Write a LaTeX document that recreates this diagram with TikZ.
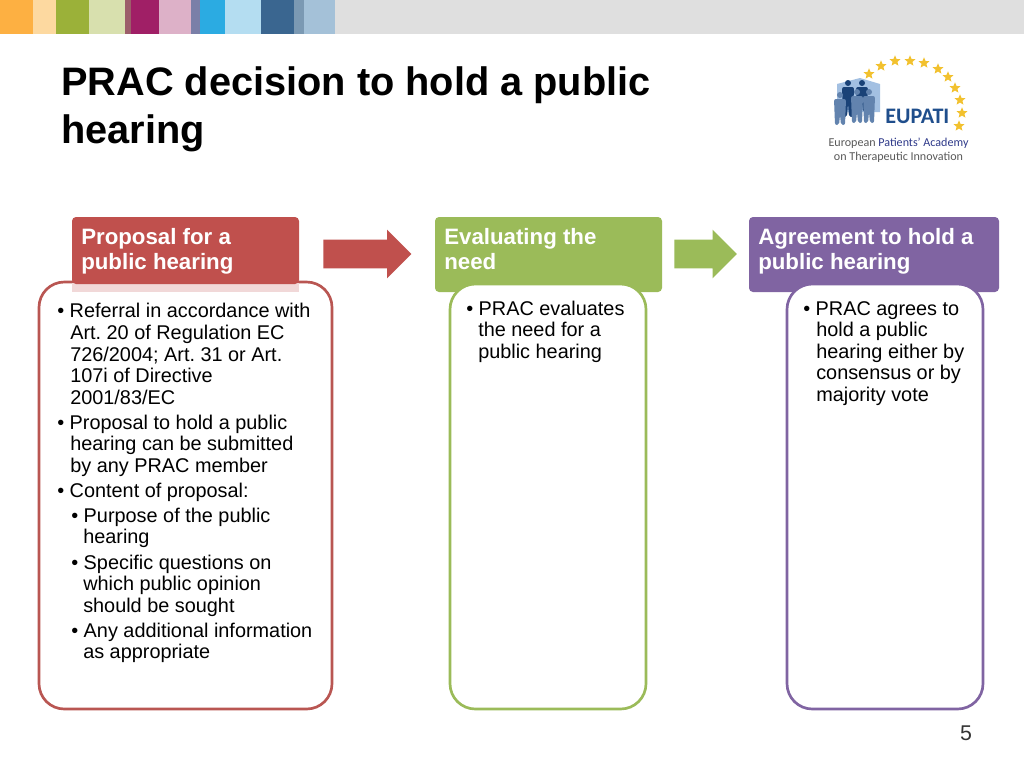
\documentclass[tikz,border=0pt]{standalone}
\usepackage{fontspec}
\setmainfont{Liberation Sans}
\newfontfamily\logofont{Carlito}
\usetikzlibrary{shapes.arrows,shapes.geometric}
\definecolor{redc}{HTML}{C0504D}
\definecolor{redline}{HTML}{B95652}
\definecolor{greenc}{HTML}{9BBB59}
\definecolor{purplec}{HTML}{8064A2}
\definecolor{starc}{HTML}{F2C12E}
\definecolor{logoblue}{HTML}{1F4E8C}
\definecolor{logonavy}{HTML}{2F3A8A}
\definecolor{logopale}{HTML}{A3C0E2}
\tikzset{
  head/.style={text=white,font=\bfseries\fontsize{16.7}{18.6}\selectfont,align=left,anchor=north west,inner sep=0pt},
  bodybox/.style={draw=#1,line width=2pt,fill=white,rounded corners=19pt},
  bodytext/.style={font=\fontsize{14.9}{16.1}\selectfont,align=left,anchor=north west,inner sep=0pt},
  flow/.style={single arrow,fill=#1,inner sep=0pt,inner ysep=10.5pt,single arrow head extend=7.5pt,anchor=west},
  star5/.style={star,star points=5,star point ratio=2.2,fill=starc,inner sep=0pt,minimum size=8.5pt},
  logotext/.style={inner sep=0pt,font=\logofont\fontsize{9.05}{10}\selectfont,text=black!65}
}
\begin{document}
\frenchspacing
\begin{tikzpicture}[x=0.75pt,y=-0.75pt]
  \useasboundingbox (0,0) rectangle (1024,768);
  \fill[white] (0,0) rectangle (1024,768);
  % colour strip
  \fill[gray!25] (335,0) rectangle (1024,34);
  \foreach \xa/\xb/\col in {0/33/FDB042,33/56/FDD9A0,56/89/9BB139,89/125/D8E0AE,125/131/9C5E6A,131/159/A01F66,159/191/DDB1C8,191/200/7A7FA8,200/225/2BABE2,225/261/B4DDF1,261/294/3A6690,294/304/7B99B3,304/335/A4C1D8}{
    \definecolor{tmpc}{HTML}{\col}
    \fill[tmpc] (\xa,0) rectangle (\xb,34);
  }
  % title
  \node[anchor=north west,inner sep=0pt,align=left,font=\bfseries\fontsize{29.8}{36.2}\selectfont] (title) at (61,66) {PRAC decision to hold a public\\hearing};
  % logo
  \foreach \sx/\sy in {869/74,881/66,895/61,910/61,924/63,938/69,948/77,955/88,960/100,962/113,959/126}{
    \node[star5] (s\sx) at (\sx,\sy) {};
  }
  \fill[logopale] (837,84) -- (860,78) -- (880,84) -- (880,112) -- (837,112) -- cycle;
  \foreach \px/\py/\pb/\col in {848/83/117/logoblue!85!black,862/83/112/logoblue!85!black,840/95/125/logoblue!70!white,857/92/123/logoblue!70!white,869/92/123/logoblue!70!white}{
    \fill[\col] (\px,\py) circle (3);
    \fill[\col,rounded corners=1.5pt] (\px-6,\py+4) -- (\px+6,\py+4) -- (\px+5,\pb) -- (\px+1,\pb) -- (\px,\py+20) -- (\px-1,\pb) -- (\px-5,\pb) -- cycle;
  }
  \node[anchor=west,inner sep=0pt,text=logoblue,font=\logofont\bfseries\fontsize{16.6}{18}\selectfont] (eupati) at (885,116) {EUPATI};
  \node[logotext] (academy) at (898.5,143) {European \textcolor{logonavy}{Patients’ Academy}};
  \node[logotext] (innov) at (898.5,157) {on Therapeutic Innovation};
  % headers
  \fill[greenc,rounded corners=3pt] (435,217) rectangle (662,292);
  \fill[purplec,rounded corners=3pt] (749,217) rectangle (999,292);
  % boxes
  \draw[bodybox=redline] (39,282) rectangle (332,709);
  \draw[bodybox=greenc] (450,284) rectangle (646,709);
  \draw[bodybox=purplec] (787,284) rectangle (983,709);
  \fill[redc!22!white] (72,283) rectangle (299,292);
  \fill[redc,rounded corners=3pt] (72,217) rectangle (299,284);
  \node[head] (prop) at (81,228.5) {Proposal for a\\public hearing};
  \node[head] (eval) at (444,228.5) {Evaluating the\\need};
  \node[head] (agree) at (758,228.5) {Agreement to hold a\\public hearing};
  % arrows
  \node[flow=redc,minimum height=66pt] (arr1) at (323,254) {};
  \node[flow=greenc,minimum height=47pt] (arr2) at (674,254) {};
  % bullets
  \node[bodytext] (a1) at (57,303) {• Referral in accordance with};
  \node[bodytext] (a2) at (70,325) {Art. 20 of Regulation EC\\726/2004; Art. 31 or Art.\\107i of Directive\\2001/83/EC};
  \node[bodytext] (a3) at (57,415) {• Proposal to hold a public};
  \node[bodytext] (a4) at (70,436) {hearing can be submitted\\by any PRAC member};
  \node[bodytext] (a5) at (57,483) {• Content of proposal:};
  \node[bodytext] (a6) at (71,508) {• Purpose of the public};
  \node[bodytext] (a7) at (83,529) {hearing};
  \node[bodytext] (a8) at (71,555) {• Specific questions on};
  \node[bodytext] (a9) at (83,576) {which public opinion\\should be sought};
  \node[bodytext] (a10) at (71,623) {• Any additional information};
  \node[bodytext] (a11) at (83,644) {as appropriate};
  \node[bodytext] (b1) at (466,301) {• PRAC evaluates};
  \node[bodytext] (b2) at (478,322) {the need for a\\public hearing};
  \node[bodytext] (c1) at (803,301) {• PRAC agrees to};
  \node[bodytext] (c2) at (816,322) {hold a public\\hearing either by\\consensus or by\\majority vote};
  \node[inner sep=0pt,font=\fontsize{16}{18}\selectfont,text=black!80] (page) at (966,733) {5};
\end{tikzpicture}
\end{document}
